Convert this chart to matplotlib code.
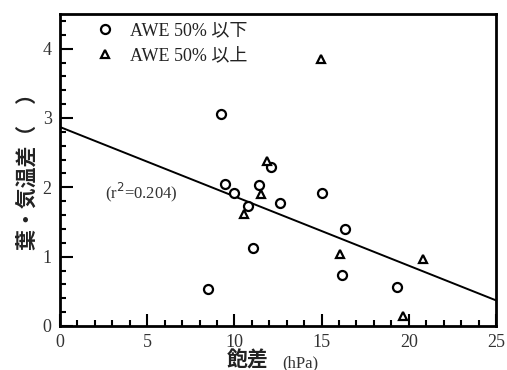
import matplotlib
matplotlib.use("Agg")
import matplotlib.pyplot as plt
from matplotlib.ticker import MultipleLocator

# AWE 50% 以下 (circles)
low_x = [8.5, 9.25, 9.47, 10.0, 10.78, 11.07, 11.41, 12.07, 12.64, 15.05, 16.35, 16.15, 19.35]
low_y = [0.53, 3.06, 2.05, 1.92, 1.73, 1.12, 2.04, 2.29, 1.78, 1.92, 1.40, 0.73, 0.56]

# AWE 50% 以上 (triangles)
high_x = [14.95, 11.88, 11.55, 10.55, 16.05, 20.8, 19.65]
high_y = [3.85, 2.38, 1.90, 1.62, 1.04, 0.97, 0.14]

# regression line
fit_x = [0, 25]
fit_y = [2.87, 0.37]

plt.rcParams["font.family"] = ["Liberation Serif", "Noto Sans CJK JP"]

fig = plt.figure(figsize=(5.07, 3.70), dpi=100)
ax = fig.add_axes([60 / 507, 44 / 370, 436 / 507, 312 / 370])

ax.plot(fit_x, fit_y, color="black", lw=1.4)
ax.plot(low_x, low_y, "o", ms=6.5, mfc="white", mec="black", mew=1.6,
        linestyle="none", label="AWE 50% 以下")
ax.plot(high_x, high_y, "^", ms=6, mfc="white", mec="black", mew=1.6,
        linestyle="none", label="AWE 50% 以上")

ax.set_xlim(0, 25)
ax.set_ylim(0, 4.5)
ax.xaxis.set_major_locator(MultipleLocator(5))
ax.xaxis.set_minor_locator(MultipleLocator(1))
ax.yaxis.set_major_locator(MultipleLocator(1))
ax.yaxis.set_minor_locator(MultipleLocator(0.2))
ax.tick_params(which="both", direction="in", top=False, right=False, width=1.5,
               labelsize=13, labelcolor="#333333")
ax.tick_params(which="major", length=9)
ax.tick_params(which="minor", length=4)
ax.tick_params(axis="x", pad=6)
ax.tick_params(axis="y", pad=6)
for s in ax.spines.values():
    s.set_linewidth(2)

leg = ax.legend(loc="upper left", bbox_to_anchor=(0.057, 1.008), frameon=False,
                fontsize=13, handletextpad=0.9, labelspacing=0.45,
                handlelength=1.0, borderaxespad=0.2)
for t in leg.get_texts():
    t.set_color("#222222")

ax.text(2.6, 1.93, "(r$^2$=0.204)", fontsize=12, ha="left", va="center",
        color="#333333")

fig.text(27 / 507, 1 - 166 / 370, "葉・気温差（　）", rotation=90,
         ha="center", va="center", fontsize=15, family=["Noto Sans CJK JP"],
         fontweight="bold", color="#222222")
fig.text(227 / 507, 3 / 370, "飽差", ha="left", va="baseline", fontsize=15,
         family=["Noto Sans CJK JP"], fontweight="bold", color="#222222")
fig.text(282 / 507, 3 / 370, "(hPa)", ha="left", va="baseline", fontsize=12,
         color="#333333")

fig.savefig("out.png", dpi=100)
